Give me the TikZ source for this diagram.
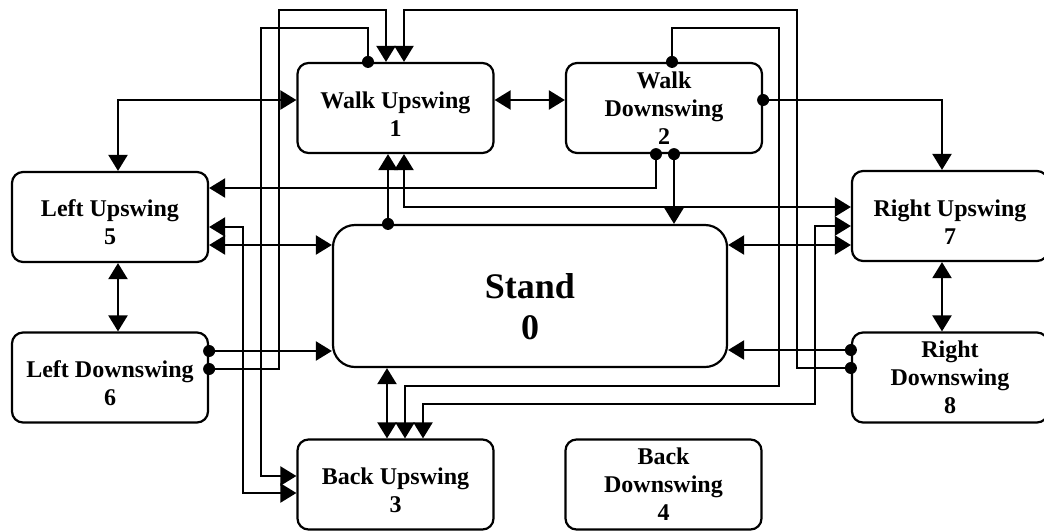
\documentclass[tikz,border=0pt]{standalone}
\usepackage{fontspec}
\setmainfont{Liberation Serif}
\usetikzlibrary{arrows.meta}
% strut that pushes two-line labels down inside their boxes
\newcommand\firstrow{\rule{0pt}{28pt}}
\newcommand\standrow{\rule{0pt}{46pt}}
\begin{document}
\begin{tikzpicture}[x=1pt,y=-1pt,
  state/.style={draw, line width=2.2pt, rounded corners=11pt,
    minimum width=196pt, minimum height=90pt, inner sep=0pt, align=center,
    font=\bfseries\fontsize{24}{28}\selectfont},
  wire/.style={line width=2.2pt, -{Triangle[length=16pt,width=19pt]}},
  both/.style={line width=2.2pt,
    {Triangle[length=16pt,width=19pt]}-{Triangle[length=16pt,width=19pt]}},
  dot/.style={circle, fill, inner sep=0pt, minimum size=12pt},
]
\useasboundingbox (0,0) rectangle (1044,531);
\clip (0,0) rectangle (1044,531);
\fill[white] (0,0) rectangle (1044,531);

% states
\node[state] (wu) at (395.5,108) {\firstrow Walk Upswing\\1};
\node[state] (wd) at (664,108)   {Walk\\Downswing\\2};
\node[state] (lu) at (110,217)   {\firstrow Left Upswing\\5};
\node[state] (ru) at (950,216)   {\firstrow Right Upswing\\7};
\node[state, minimum width=394pt, minimum height=142pt, rounded corners=22pt,
      font=\bfseries\fontsize{36}{41}\selectfont] (st) at (530,296) {\standrow Stand\\0};
\node[state] (ld) at (110,377.5) {\firstrow Left Downswing\\6};
\node[state] (rd) at (950,377.5) {Right\\Downswing\\8};
\node[state] (bu) at (395.5,484.5) {\firstrow Back Upswing\\3};
\node[state] (bd) at (663.5,484.5) {Back\\Downswing\\4};

% transitions
\draw[both] (wu.east |- 0,100) -- (wd.west |- 0,100);
\draw[both] (lu.north -| 118,0) |- (wu.west |- 0,100);
\draw[wire] (wd.east |- 0,100) node[dot]{} -| (ru.north -| 942,0);
\draw[both] (lu.south -| 118,0) -- (ld.north -| 118,0);
\draw[both] (ru.south -| 942,0) -- (rd.north -| 942,0);
\draw[both] (lu.east |- 0,245) -- (st.west |- 0,245);
\draw[both] (st.east |- 0,245) -- (ru.west |- 0,245);
\draw[wire] (ld.east |- 0,351) node[dot]{} -- (st.west |- 0,351);
\draw[wire] (rd.west |- 0,350) node[dot]{} -- (st.east |- 0,350);
\draw[wire] (st.north -| 388,0) node[dot]{} -- (wu.south -| 388,0);
\draw[both] (wu.south -| 404,0) |- (ru.west |- 0,207);
\draw[wire] (wd.south -| 656,0) node[dot]{} |- (lu.east |- 0,188);
\draw[wire] (wd.south -| 674,0) node[dot]{} -- (st.north -| 674,0);
\draw[both] (lu.east |- 0,227) -| (243,493) -- (bu.west |- 0,493);
\draw[wire] (wu.north -| 368,0) node[dot]{} |- (261,28) |- (bu.west |- 0,476);
\draw[wire] (ld.east |- 0,369) node[dot]{} -| (279,10) -| (wu.north -| 386,0);
\draw[wire] (rd.west |- 0,368) node[dot]{} -| (797,10) -| (wu.north -| 404,0);
\draw[wire] (wd.north -| 672,0) node[dot]{} |- (779,28) |- (405,386) -- (bu.north -| 405,0);
\draw[both] (ru.west |- 0,226) -| (815,404) -| (bu.north -| 423,0);
\draw[both] (st.south -| 387,0) -- (bu.north -| 387,0);
\end{tikzpicture}
\end{document}
